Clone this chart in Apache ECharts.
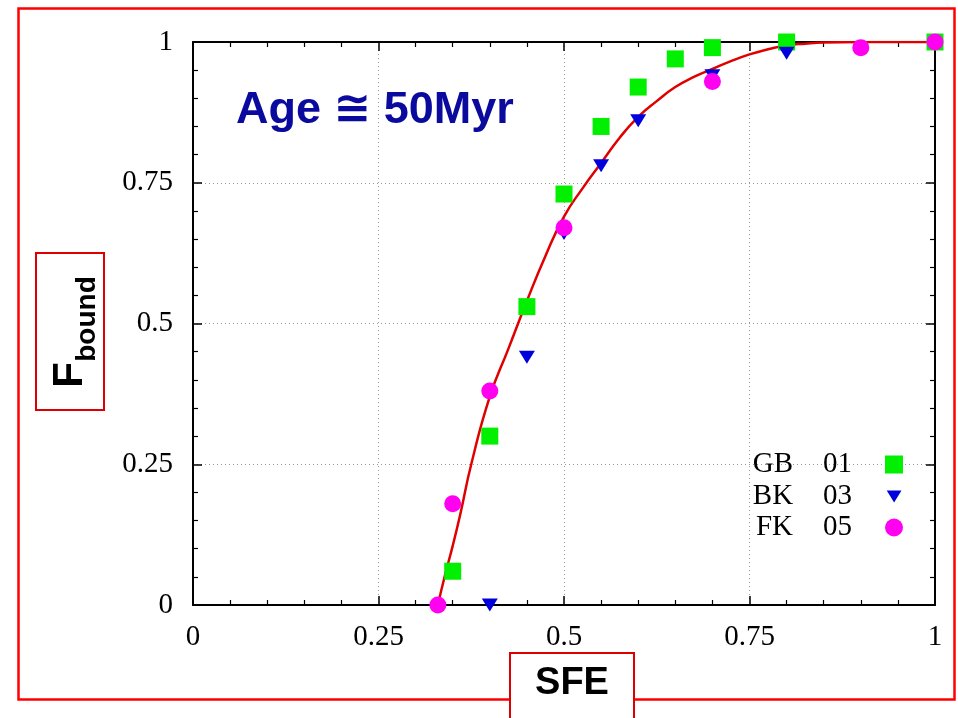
<!DOCTYPE html>
<html>
<head>
<meta charset="utf-8">
<title>F_bound vs SFE</title>
<script src="https://cdn.jsdelivr.net/npm/echarts@6/dist/echarts.min.js"></script>
<style>
  html, body { margin: 0; padding: 0; background: #fff; }
  #chart { width: 958px; height: 718px; }
</style>
</head>
<body>
<div id="chart"></div>
<script>
// Bound fraction of stars vs star formation efficiency, three simulation sets
const xTicks = [0, 0.25, 0.5, 0.75, 1];
const yTicks = [0, 0.25, 0.5, 0.75, 1];

// GB 01
const sfeGB = [0.35, 0.40, 0.45, 0.50, 0.55, 0.60, 0.65, 0.70, 0.80, 1.00];
const fbGB  = [0.06, 0.30, 0.53, 0.73, 0.85, 0.92, 0.97, 0.99, 1.00, 1.00];

// BK 03
const sfeBK = [0.40, 0.45, 0.50, 0.55, 0.60, 0.70, 0.80];
const fbBK  = [0.00, 0.44, 0.66, 0.78, 0.86, 0.94, 0.98];

// FK 05
const sfeFK = [0.33, 0.35, 0.40, 0.50, 0.70, 0.90, 1.00];
const fbFK  = [0.00, 0.18, 0.38, 0.67, 0.93, 0.99, 1.00];

// fitted curve, sampled along SFE
const fitSFE = [0.33, 0.34, 0.35, 0.36, 0.375, 0.40, 0.425, 0.45, 0.475, 0.50, 0.525, 0.55, 0.575,
                0.60, 0.625, 0.65, 0.675, 0.70, 0.725, 0.75, 0.775, 0.80, 0.825, 0.85, 0.90, 0.95, 1.00];
const fitF   = [0.00, 0.055, 0.105, 0.16, 0.25, 0.37, 0.455, 0.54, 0.62, 0.69, 0.74, 0.785, 0.83,
                0.867, 0.895, 0.92, 0.938, 0.952, 0.966, 0.978, 0.987, 0.994, 0.997, 0.999, 1.00, 1.00, 1.00];

const seriesNames = ['GB 01', 'BK 03', 'FK 05'];
const titleText = 'Age \u2245 50Myr';

const pair = (xs, ys) => xs.map((x, i) => [x, ys[i]]);

const serif = '"Liberation Serif", "Times New Roman", serif';
const sans = '"Liberation Sans", Arial, "DejaVu Sans", sans-serif';

const G = { left: 193, top: 42, width: 742, height: 563, containLabel: false, outerBoundsMode: 'none' };

function axisCommon(showLabels, isY) {
  return {
    type: 'value',
    min: 0, max: 1, interval: 0.25,
    axisLine: { show: true, onZero: false, lineStyle: { color: '#000', width: 2 } },
    axisTick: { show: true, inside: true, interval: 0, length: 9, lineStyle: { color: '#000', width: 1.5 } },
    minorTick: { show: true, splitNumber: 5, length: 5, lineStyle: { color: '#000', width: 1.2 } },
    // mirrored axes keep (transparent) labels so their ticks are laid out
    axisLabel: {
      show: true,
      color: showLabels ? '#000' : 'rgba(255,255,255,0)',
      fontFamily: serif,
      fontSize: 29,
      margin: isY ? 20 : 18,
      customValues: isY ? yTicks : xTicks
    },
    splitLine: { show: false }
  };
}

const gridLine = { show: true, lineStyle: { color: '#9a9a9a', width: 1, type: [1, 3] } };

const xBottom = Object.assign(axisCommon(true, false), { position: 'bottom', splitLine: gridLine });
const xTop = Object.assign(axisCommon(false, false), { position: 'top' });
const yLeft = Object.assign(axisCommon(true, true), { position: 'left', splitLine: gridLine });
const yRight = Object.assign(axisCommon(false, true), { position: 'right' });

function legendFor(name, iconW, iconH, centerY, icon) {
  const entry = icon ? { name: name, icon: icon } : name;
  return {
    data: [entry],
    orient: 'vertical',
    align: 'right',
    right: 958 - 894 - iconW / 2,
    top: centerY - 15,
    padding: 0,
    itemWidth: iconW,
    itemHeight: iconH,
    selectedMode: false,
    formatter: n => {
      const parts = n.split(' ');
      return '{a|' + parts[0] + '}{b|' + parts[1] + '}{e| }';
    },
    textStyle: {
      rich: {
        a: { fontFamily: serif, fontSize: 29, color: '#000', lineHeight: 30 },
        b: { fontFamily: serif, fontSize: 29, color: '#000', lineHeight: 30, padding: [0, 0, 0, 30] },
        e: { width: 28 + (9 - iconW / 2), fontFamily: serif, fontSize: 29, lineHeight: 30 }
      }
    }
  };
}

const chart = echarts.init(document.getElementById('chart'), null, { renderer: 'canvas' });

chart.setOption({
  backgroundColor: '#fff',
  animation: false,
  grid: G,
  xAxis: [xBottom, xTop],
  yAxis: [yLeft, yRight],
  legend: [
    legendFor(seriesNames[0], 18, 18, 465),
    legendFor(seriesNames[1], 15, 12, 497, 'path://M0,0L16,0L8,13Z'),
    legendFor(seriesNames[2], 18, 18, 528)
  ],
  series: [
    {
      name: 'fit',
      type: 'line',
      data: pair(fitSFE, fitF),
      showSymbol: false,
      smooth: 0.5,
      lineStyle: { color: '#e00000', width: 2.5 },
      z: 2
    },
    {
      name: seriesNames[0],
      type: 'scatter',
      data: pair(sfeGB, fbGB),
      symbol: 'rect',
      symbolSize: 17,
      itemStyle: { color: '#00f000', opacity: 1 },
      clip: false,
      z: 3
    },
    {
      name: seriesNames[1],
      type: 'scatter',
      data: pair(sfeBK, fbBK),
      symbol: 'triangle',
      symbolRotate: 180,
      symbolSize: [16, 13],
      itemStyle: { color: '#0000dd', opacity: 1 },
      clip: false,
      z: 4
    },
    {
      name: seriesNames[2],
      type: 'scatter',
      data: pair(sfeFK, fbFK),
      symbol: 'circle',
      symbolSize: 17,
      itemStyle: { color: '#ff00f0', opacity: 1 },
      clip: false,
      z: 5
    },
    // empty series bound to the mirrored top/right axes
    {
      name: 'frame',
      type: 'line',
      xAxisIndex: 1,
      yAxisIndex: 1,
      data: [],
      silent: true
    }
  ],
  graphic: [
    // outer frame
    {
      type: 'rect', z: -10, silent: true,
      shape: { x: 18.5, y: 8.5, width: 936, height: 691 },
      style: { fill: 'none', stroke: '#ff0000', lineWidth: 2.5 }
    },
    // y axis title box
    {
      type: 'rect', z: 10, silent: true,
      shape: { x: 36, y: 253, width: 68, height: 157 },
      style: { fill: '#fff', stroke: '#dd0000', lineWidth: 2 }
    },
    {
      type: 'text', z: 11, silent: true,
      x: 70, y: 375, rotation: Math.PI / 2,
      style: { text: 'F', font: 'bold 42px ' + sans, fill: '#000', align: 'center', verticalAlign: 'middle' }
    },
    {
      type: 'text', z: 11, silent: true,
      x: 87, y: 319, rotation: Math.PI / 2,
      style: { text: 'bound', font: 'bold 28px ' + sans, fill: '#000', align: 'center', verticalAlign: 'middle' }
    },
    // x axis title box
    {
      type: 'rect', z: 10, silent: true,
      shape: { x: 510, y: 653, width: 124, height: 80 },
      style: { fill: '#fff', stroke: '#dd0000', lineWidth: 2 }
    },
    {
      type: 'text', z: 11, silent: true,
      x: 572, y: 684,
      style: { text: 'SFE', font: 'bold 38px ' + sans, fill: '#000', align: 'center', verticalAlign: 'middle' }
    },
    // age annotation
    {
      type: 'text', z: 11, silent: true,
      x: 236, y: 111,
      style: { text: titleText, font: 'bold 45px ' + sans, fill: '#0a0a9e', align: 'left', verticalAlign: 'middle' }
    }
  ]
});
</script>
</body>
</html>
